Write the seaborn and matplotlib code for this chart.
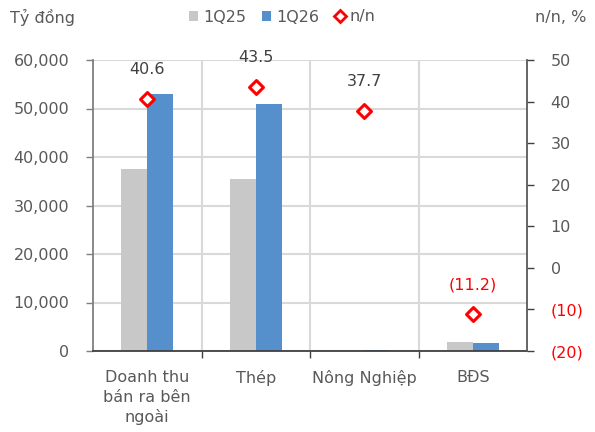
import numpy as np
import pandas as pd
import matplotlib
matplotlib.use("Agg")
import matplotlib.pyplot as plt
from matplotlib.ticker import FuncFormatter, FixedLocator
from matplotlib.patches import Patch
from matplotlib.lines import Line2D
import seaborn as sns

# Revenue by segment (billion VND) and year-on-year change (%)
categories = ["Doanh thu\nbán ra bên\nngoài", "Thép", "Nông Nghiệp", "BĐS"]
rev_1q25 = [37500, 35400, 80, 1900]
rev_1q26 = [52900, 50900, 300, 1700]
yoy_pct = [40.6, 43.5, 37.7, -11.2]
series_names = ["1Q25", "1Q26"]
yoy_name = "n/n"

GRAY = "#C8C8C8"
BLUE = "#5590CC"
RED = "#FF0000"
TXT = "#595959"

sns.set_theme(style="white")
plt.rcParams["font.family"] = ["DejaVu Sans"]
plt.rcParams["font.size"] = 11.5

df = pd.DataFrame({
    "segment": categories * 2,
    "series": [series_names[0]] * len(categories) + [series_names[1]] * len(categories),
    "value": rev_1q25 + rev_1q26,
})

fig, ax = plt.subplots(figsize=(5.95, 4.32), dpi=100)
fig.subplots_adjust(left=93 / 595, right=527 / 595, top=1 - 60 / 432, bottom=1 - 351 / 432)

sns.barplot(data=df, x="segment", y="value", hue="series", order=categories,
            hue_order=series_names, palette=[GRAY, BLUE], width=0.48,
            saturation=1, legend=False, ax=ax, zorder=2, linewidth=0)

ax.set_ylim(0, 60000)
ax.set_xlim(-0.5, len(categories) - 0.5)
ax.set_yticks(np.arange(0, 60001, 10000))
ax.yaxis.set_major_formatter(FuncFormatter(lambda v, p: f"{v:,.0f}"))
ax.set_xlabel("")
ax.set_ylabel("")

# gridlines and category separators
ax.yaxis.grid(True, color="#D9D9D9", lw=1.5, zorder=0)
ax.xaxis.set_minor_locator(FixedLocator(np.arange(0.5, len(categories) - 0.5, 1)))
ax.xaxis.grid(True, which="minor", color="#D9D9D9", lw=1.5, zorder=0)
ax.xaxis.grid(False, which="major")
ax.set_axisbelow(True)

ax.tick_params(axis="y", which="major", direction="out", length=5, width=1,
               color="#7F7F7F", labelcolor=TXT, labelsize=11.5, pad=12, left=True)
ax.tick_params(axis="x", which="major", length=0, labelcolor=TXT, labelsize=11.5, pad=14)
ax.tick_params(axis="x", which="minor", direction="out", length=5, width=1,
               color="#404040", bottom=True)
for lbl in ax.get_xticklabels():
    lbl.set_linespacing(1.35)

ax.spines["top"].set_visible(False)
ax.spines["left"].set_color("#7F7F7F")
ax.spines["left"].set_linewidth(1.3)
ax.spines["bottom"].set_color("#404040")
ax.spines["bottom"].set_linewidth(1.3)
ax.spines["right"].set_visible(False)

# year-on-year change on the secondary axis
ax2 = ax.twinx()
pos = np.arange(len(categories))
sns.scatterplot(x=pos, y=yoy_pct, ax=ax2, marker="D", s=50, color="white",
                edgecolor=RED, linewidth=2.2, zorder=5, legend=False)
ax2.set_ylim(-20, 50)
ax2.set_yticks(np.arange(-20, 51, 10))


def pct_fmt(v, p):
    return f"({abs(v):.0f})" if v < 0 else f"{v:.0f}"


ax2.yaxis.set_major_formatter(FuncFormatter(pct_fmt))
ax2.tick_params(axis="y", direction="out", length=5, width=1, color="#404040",
                labelcolor=TXT, labelsize=11.5, pad=12, right=True)
for lbl, val in zip(ax2.get_yticklabels(), ax2.get_yticks()):
    if val < 0:
        lbl.set_color(RED)
for side in ["top", "left", "bottom"]:
    ax2.spines[side].set_visible(False)
ax2.spines["right"].set_color("#595959")
ax2.spines["right"].set_linewidth(1.3)
ax2.set_xlim(-0.5, len(categories) - 0.5)

for x, v in zip(pos, yoy_pct):
    txt = f"({abs(v):.1f})" if v < 0 else f"{v:.1f}"
    ax2.annotate(txt, (x, v), xytext=(0, 21), textcoords="offset points",
                 ha="center", va="center", fontsize=11.5,
                 color=RED if v < 0 else "#404040")

# axis titles
fig.text(10 / 595, 1 - 17 / 432, "Tỷ đồng", ha="left", va="center", color=TXT, fontsize=11.5)
fig.text(586 / 595, 1 - 17 / 432, "n/n, %", ha="right", va="center", color=TXT, fontsize=11.5)

handles = [
    Patch(facecolor=GRAY, edgecolor="none", label=series_names[0]),
    Patch(facecolor=BLUE, edgecolor="none", label=series_names[1]),
    Line2D([], [], marker="D", ls="none", markersize=6, markerfacecolor="white",
           markeredgecolor=RED, markeredgewidth=2, label=yoy_name),
]
leg = fig.legend(handles=handles, loc="center", bbox_to_anchor=(282 / 595, 1 - 17 / 432),
                 ncol=3, frameon=False, handlelength=0.6, handleheight=0.6,
                 handletextpad=0.3, columnspacing=1.0, fontsize=11.5)
for t in leg.get_texts():
    t.set_color(TXT)

fig.savefig("out.png", dpi=100)
